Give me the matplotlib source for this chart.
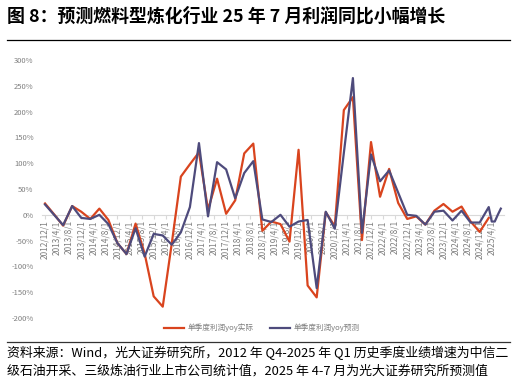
import numpy as np
import pandas as pd
import matplotlib
matplotlib.use('Agg')
import matplotlib.pyplot as plt
from matplotlib.lines import Line2D

plt.rcParams['font.family'] = ['Noto Sans CJK SC', 'DejaVu Sans']

# 季度数据（2012Q4-2025Q1），单位 %
q_dates = pd.date_range('2012-12-01', periods=50, freq='3MS')
actual = [22, 1, -21, 17, 6, -8, 12, -10, -55, -76, -17, -75, -158, -178, -55, 74,
          98, 121, 10, 70, 2, 28, 119, 138, -31, -13, -18, -52, 126, -137, -160, 5,
          -22, 203, 228, -49, 141, 35, 89, 23, -8, -3, -19, 8, 21, 6, 16, -13, -33, -6]
forecast = [20, 0, -20, 17, -6, -8, 0, -18, -55, -76, -26, -81, -37, -40, -58, -34,
            15, 139, -3, 102, 88, 32, 81, 104, -9, -14, 0, -23, -13, -10, -142, 6,
            -27, 120, 265, -35, 117, 65, 86, 43, 0, -2, -19, 6, 8, -11, 8, -15, -15, 15]
# 2025年4-7月预测（月度）
m_dates = pd.date_range('2025-04-01', '2025-07-01', freq='MS')
forecast_m = [-13, -13, 0, 12]

tick_dates = pd.date_range('2012-12-01', '2025-04-01', freq='4MS')
tick_labels = [f'{d.year}/{d.month}/1' for d in tick_dates]

start = pd.Timestamp('2012-12-01')
def midx(dates):
    return [(d.year - start.year) * 12 + d.month - start.month for d in dates]

xq = midx(q_dates)
xm = midx(m_dates)
xt = midx(tick_dates)

red = '#D9441E'
blue = '#4E4B7C'
gray = '#7F7F7F'

fig = plt.figure(figsize=(5.16, 3.82), dpi=100)
ax = fig.add_axes([0.0814, 0.1675, 0.895, 0.6754])

ax.plot(xq, actual, color=red, lw=1.6, zorder=3)
ax.plot(xq + xm, forecast + forecast_m, color=blue, lw=1.6, zorder=3)

# 先设置坐标轴位置（会重置刻度），再设置刻度
for s in ['top', 'right', 'left']:
    ax.spines[s].set_visible(False)
ax.spines['bottom'].set_position(('data', 0))
ax.spines['bottom'].set_color('#D9D9D9')
ax.spines['bottom'].set_linewidth(0.8)
ax.set_axisbelow(True)

ax.set_xlim(-1, 152)
ax.set_ylim(-200, 300)
ax.set_yticks(np.arange(-200, 301, 50))
ax.set_yticklabels([f'{v}%' for v in range(-200, 301, 50)], color=gray, fontsize=5.5)
ax.tick_params(axis='y', length=0, pad=6)

ax.set_xticks(xt)
ax.set_xticklabels(tick_labels, rotation=90, color=gray, fontsize=6, va='top')
ax.tick_params(axis='x', length=3, color='#D9D9D9', pad=1)

handles = [Line2D([], [], color=red, lw=1.6), Line2D([], [], color=blue, lw=1.6)]
fig.legend(handles, ['单季度利润yoy实际', '单季度利润yoy预测'], loc='center',
           bbox_to_anchor=(262 / 516, 1 - 328 / 382), ncol=2, frameon=False,
           fontsize=5.5, labelcolor=gray, handlelength=2.6, handletextpad=0.5,
           columnspacing=2.2)

# 标题与资料来源
fig.text(7 / 516, 1 - 16 / 382, '图 8：预测燃料型炼化行业 25 年 7 月利润同比小幅增长',
         fontsize=12.9, fontweight='bold', va='center', ha='left')
fig.add_artist(Line2D([7 / 516, 510 / 516], [1 - 40 / 382] * 2, color='black', lw=0.9))
fig.add_artist(Line2D([7 / 516, 510 / 516], [1 - 342 / 382] * 2, color='#333333', lw=0.9))
fig.text(7 / 516, 1 - 353 / 382,
         '资料来源：Wind，光大证券研究所，2012 年 Q4-2025 年 Q1 历史季度业绩增速为中信二',
         fontsize=9.3, va='center', ha='left')
fig.text(7 / 516, 1 - 371 / 382,
         '级石油开采、三级炼油行业上市公司统计值，2025 年 4-7 月为光大证券研究所预测值',
         fontsize=9.3, va='center', ha='left')

fig.savefig('out.png', dpi=100)
